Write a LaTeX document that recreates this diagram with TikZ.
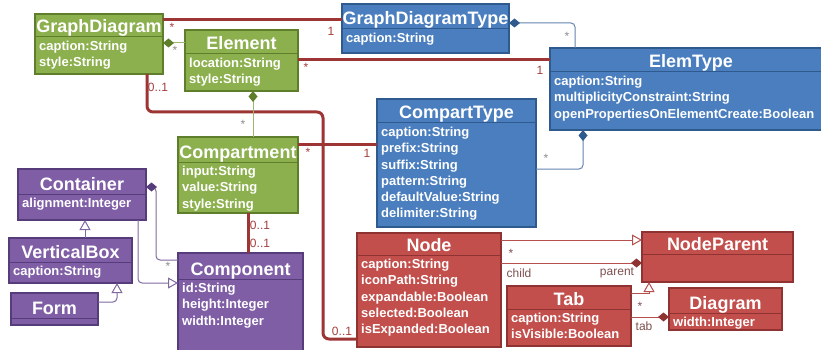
\documentclass[tikz,border=0pt]{standalone}
\usepackage{fontspec}
\setmainfont{Liberation Sans}
\usetikzlibrary{arrows.meta,fit}
\definecolor{fillG}{HTML}{8CB04D}
\definecolor{bdG}{HTML}{5E7E2C}
\definecolor{fillB}{HTML}{4A7EBE}
\definecolor{bdB}{HTML}{2F5A8E}
\definecolor{fillP}{HTML}{7F5EA6}
\definecolor{bdP}{HTML}{573C7B}
\definecolor{fillR}{HTML}{C24F4C}
\definecolor{bdR}{HTML}{8E3331}
\definecolor{lnRthick}{HTML}{9E3535}
\definecolor{lnG}{HTML}{9CB870}
\definecolor{lnB}{HTML}{6384AE}
\definecolor{lnP}{HTML}{80699F}
\definecolor{lnR}{HTML}{B5504D}
\definecolor{labR}{HTML}{A33F3C}
\definecolor{labGray}{HTML}{8C8C8C}
\definecolor{labRG}{HTML}{7E5050}
\tikzset{
  clsG/.style={fill=fillG, draw=bdG, line width=1.2pt},
  clsB/.style={fill=fillB, draw=bdB, line width=1.2pt},
  clsP/.style={fill=fillP, draw=bdP, line width=1.2pt},
  clsR/.style={fill=fillR, draw=bdR, line width=1.2pt},
  ttl/.style={text=white, font=\bfseries\fontsize{18}{20}\selectfont, inner sep=0pt},
  attr/.style={text=white, font=\bfseries\fontsize{13}{16.3}\selectfont, inner sep=0pt, align=left},
  rthick/.style={draw=lnRthick, line width=3pt, rounded corners=6pt},
  thinG/.style={draw=lnG, line width=1pt, rounded corners=4pt},
  thinB/.style={draw=lnB, line width=1pt, rounded corners=4pt},
  thinP/.style={draw=lnP, line width=1pt, rounded corners=4pt},
  thinR/.style={draw=lnR, line width=1pt, rounded corners=4pt},
  gen/.style={-{Triangle[open, length=10pt, width=11pt, fill=white]}},
  compG/.style={{Diamond[length=11pt, width=9pt, color=bdG]}-},
  compB/.style={{Diamond[length=11pt, width=9pt, color=bdB]}-},
  compP/.style={{Diamond[length=11pt, width=9pt, color=bdP]}-},
  compRend/.style={-{Diamond[length=11pt, width=9pt, color=bdR]}},
  mlab/.style={font=\fontsize{12}{14}\selectfont, text=labR, inner sep=0pt},
  glab/.style={font=\fontsize{12}{14}\selectfont, text=labGray, inner sep=0pt},
  rlab/.style={font=\fontsize{12}{14}\selectfont, text=labRG, inner sep=0pt},
}
\newcommand\umlclass[9]{%
  \node[cls#7, fit={(#2,#3) (#4,#5)}, inner sep=0pt, outer sep=0pt] (#1) {};
  \draw[draw=bd#7, line width=1pt] (#1.west |- 0,#6) -- (#1.east |- 0,#6);
  \node[ttl, anchor=base] (#1t) at ({(#2+#4)/2},{#6-4}) {#8};
  \node[attr, anchor=north west] (#1a) at ({#2+4},{#6+3.2}) {\rule{0pt}{10pt}#9};
}
\begin{document}
\begin{tikzpicture}[x=1pt,y=-1pt]
\useasboundingbox (0,0) rectangle (821,350);
\clip (0,0) rectangle (821,350);
\fill[white] (0,0) rectangle (821,350);

\coordinate (c1) at (147,112);
\coordinate (c2) at (323,112);
\coordinate (c3) at (323,339);

% classes
\umlclass{gd}{35}{14}{163}{74}{37}{G}{GraphDiagram}{caption:String\\style:String}
\umlclass{el}{185}{30}{298}{91}{54}{G}{Element}{location:String\\style:String}
\umlclass{cm}{178}{137}{298}{213}{162}{G}{Compartment}{input:String\\value:String\\style:String}
\umlclass{co}{18}{169}{146}{220}{194}{P}{Container}{alignment:Integer}
\umlclass{vb}{9}{238}{132}{283}{262}{P}{VerticalBox}{caption:String}
\umlclass{fm}{11}{293}{98}{325}{318}{P}{Form}{}
\umlclass{cp}{178}{253}{303}{362}{279}{P}{Component}{id:String\\height:Integer\\width:Integer}
\umlclass{gt}{342}{4}{509}{53}{29}{B}{GraphDiagramType}{caption:String}
\umlclass{et}{550}{48}{832}{130}{72}{B}{ElemType}{caption:String\\multiplicityConstraint:String\\openPropertiesOnElementCreate:Boolean}
\umlclass{ct}{377}{99}{536}{227}{123}{B}{CompartType}{caption:String\\prefix:String\\suffix:String\\pattern:String\\defaultValue:String\\delimiter:String}
\umlclass{nd}{357}{233}{501}{347}{255}{R}{Node}{caption:String\\iconPath:String\\expandable:Boolean\\selected:Boolean\\isExpanded:Boolean}
\umlclass{np}{642}{232}{793}{282}{254}{R}{NodeParent}{}
\umlclass{tb}{507}{286}{631}{346}{309}{R}{Tab}{caption:String\\isVisible:Boolean}
\umlclass{dg}{669}{288}{782}{330}{313}{R}{Diagram}{width:Integer}

% thick associations
\draw[rthick] (gd.east |- 0,20) -- (gt.west |- 0,20);
\draw[rthick] (el.east |- 0,60) -- (et.west |- 0,60);
\draw[rthick] (gd.south -| c1) -- (c1) -- (c2) -- (c3) -- (nd.west |- c3);
\draw[rthick] (cm.east |- 0,144) -- (ct.west |- 0,144);
\draw[rthick] (cm.south -| 248,0) -- (cp.north -| 248,0);

% compositions
\draw[thinG, compG] (gd.east |- 0,43) -- (el.west |- 0,43);
\draw[thinG, compG] (el.south -| 253,0) -- (cm.north -| 253,0);
\draw[thinB, compB] (gt.east |- 0,23) -- (575,23) -- (et.north -| 575,0);
\draw[thinB, compB] (et.south -| 583,0) -- (583,169) -- (ct.east |- 0,169);
\draw[thinP, compP] (co.east |- 0,187) -- (156,187) -- (156,260) -- (cp.west |- 0,260);
\draw[thinR, compRend] (nd.east |- 0,263) -- (np.west |- 0,263);
\draw[thinR, compRend] (tb.east |- 0,317) -- (dg.west |- 0,317);

% generalizations
\draw[thinP, gen] (co.south -| 138,0) -- (138,283) -- (cp.west |- 0,283);
\draw[thinP, gen] (vb.north -| 85,0) -- (co.south -| 85,0);
\draw[thinP, gen] (fm.east |- 0,302) -- (117,302) -- (vb.south -| 117,0);
\draw[thinR, gen] (nd.east |- 0,240) -- (np.west |- 0,240);
\draw[thinR, gen, rounded corners=0pt] (tb.east |- 0,293) -- (649,293) -- (np.south -| 649,0);

% labels
\node[mlab] (l1) at (172,27) {*};
\node[mlab] (l2) at (331,31) {1};
\node[mlab] (l3) at (306,67) {*};
\node[mlab] (l4) at (540,70) {1};
\node[glab] (l5) at (175,50) {*};
\node[glab] (l6) at (243,124) {*};
\node[mlab] (l7) at (158,87) {0..1};
\node[mlab] (l8) at (342,331) {0..1};
\node[mlab] (l9) at (308,152) {*};
\node[mlab] (l10) at (367,153) {1};
\node[mlab] (l11) at (260,225) {0..1};
\node[mlab] (l12) at (260,243) {0..1};
\node[glab] (l13) at (567,36) {*};
\node[glab] (l14) at (546,158) {*};
\node[glab] (l15) at (168,266) {*};
\node[rlab] (l16) at (511,253) {*};
\node[rlab] (l17) at (519,273) {child};
\node[rlab] (l18) at (617,273) {parent};
\node[rlab] (l19) at (640,306) {*};
\node[rlab] (l20) at (644,326) {tab};
\end{tikzpicture}
\end{document}
